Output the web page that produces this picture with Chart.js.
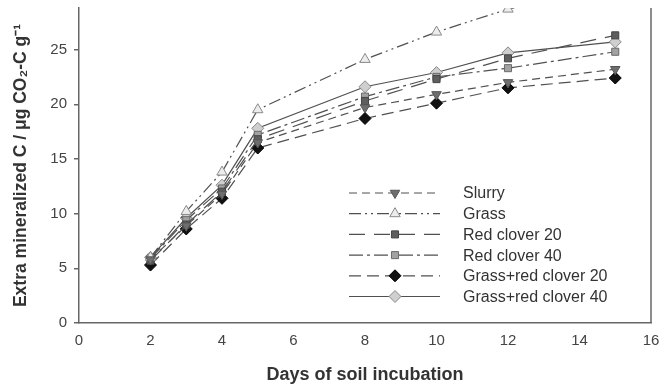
<!DOCTYPE html>
<html>
<head>
<meta charset="utf-8">
<script src="https://cdn.jsdelivr.net/npm/chart.js@4.4.0/dist/chart.umd.min.js"></script>
<style>
html,body{margin:0;padding:0;background:#fff;}
#wrap{width:659px;height:388px;position:relative;}
</style>
</head>
<body>
<div id="wrap"><canvas id="c" width="659" height="388"></canvas></div>
<script>
const days = [2, 3, 4, 5, 8, 10, 12, 15];
const seriesNames = ["Slurry", "Grass", "Red clover 20", "Red clover 40", "Grass+red clover 20", "Grass+red clover 40"];
const slurry      = [5.8, 8.9, 11.8, 16.5, 19.7, 20.9, 22.0, 23.2];
const grass       = [6.0, 10.2, 13.8, 19.5, 24.1, 26.6, 28.7, 30.7];
const redClover20 = [5.7, 9.0, 12.0, 16.8, 20.3, 22.3, 24.2, 26.3];
const redClover40 = [5.9, 9.4, 12.3, 17.2, 20.7, 22.5, 23.3, 24.8];
const grassRc20   = [5.3, 8.6, 11.4, 16.0, 18.7, 20.1, 21.5, 22.4];
const grassRc40   = [6.0, 9.6, 12.6, 17.8, 21.6, 22.9, 24.7, 25.7];
const xTicks = [0, 2, 4, 6, 8, 10, 12, 14, 16];
const yTicks = [0, 5, 10, 15, 20, 25];

const values = [slurry, grass, redClover20, redClover40, grassRc20, grassRc40];
const styles = [
  {dash:[8,5],            ps:'triangle', rot:180, r:5.5, fill:'#6e6e6e', stroke:'#555'},
  {dash:[12,4,2,4,2,4],   ps:'triangle', rot:0,   r:6,   fill:'#ececec', stroke:'#8a8a8a'},
  {dash:[16,9],           ps:'rect',     rot:0,   r:5,   fill:'#5e5e5e', stroke:'#444'},
  {dash:[14,4,3,4],       ps:'rect',     rot:0,   r:5,   fill:'#a2a2a2', stroke:'#6a6a6a'},
  {dash:[12,6],           ps:'rectRot',  rot:0,   r:6,   fill:'#111',    stroke:'#000'},
  {dash:[],               ps:'rectRot',  rot:0,   r:6,   fill:'#cfcfcf', stroke:'#8a8a8a'}
];

const datasets = seriesNames.map((n, i) => ({
  label: n,
  data: days.map((d, j) => ({x: d, y: values[i][j]})),
  borderColor: '#505050',
  borderWidth: 1.2,
  borderDash: styles[i].dash,
  pointStyle: styles[i].ps,
  rotation: styles[i].rot,
  pointRadius: styles[i].r,
  pointBackgroundColor: styles[i].fill,
  pointBorderColor: styles[i].stroke,
  pointBorderWidth: 1,
  tension: 0,
  fill: false
}));

const legendPlugin = {
  id: 'customLegend',
  afterDraw(chart) {
    const ctx = chart.ctx;
    const x0 = 349, x1 = 440, xm = 395, xt = 463;
    const y0 = 193, dy = 20.7;
    ctx.save();
    seriesNames.forEach((n, i) => {
      const y = y0 + i * dy;
      const s = styles[i];
      ctx.strokeStyle = '#505050';
      ctx.lineWidth = 1.2;
      ctx.setLineDash(s.dash);
      ctx.beginPath();
      ctx.moveTo(x0, y);
      ctx.lineTo(x1, y);
      ctx.stroke();
      ctx.setLineDash([]);
      ctx.fillStyle = s.fill;
      ctx.strokeStyle = s.stroke;
      ctx.lineWidth = 1;
      Chart.helpers.drawPoint(ctx, {pointStyle: s.ps, rotation: s.rot, radius: s.r, borderWidth: 1}, xm, y);
      ctx.fillStyle = '#333';
      ctx.font = '16px "Liberation Sans", Arial, sans-serif';
      ctx.textBaseline = 'middle';
      ctx.textAlign = 'left';
      ctx.fillText(n, xt, y + 1);
    });
    // right border
    const a = chart.chartArea;
    ctx.strokeStyle = '#666';
    ctx.lineWidth = 1.5;
    ctx.beginPath();
    ctx.moveTo(a.right, a.top);
    ctx.lineTo(a.right, a.bottom);
    ctx.stroke();
    ctx.restore();
  }
};

new Chart(document.getElementById('c'), {
  type: 'line',
  data: { datasets },
  plugins: [legendPlugin],
  options: {
    responsive: false,
    animation: false,
    events: [],
    layout: { padding: { top: 8, right: 8, left: 0, bottom: 0 } },
    plugins: { legend: { display: false }, tooltip: { enabled: false } },
    scales: {
      x: {
        type: 'linear',
        min: 0, max: 16,
        afterFit(s) { s.height = 65; s.paddingLeft = 0; s.paddingRight = 0; },
        afterBuildTicks(s) { s.ticks = xTicks.map(v => ({value: v})); },
        grid: { display: false },
        border: { display: true, color: '#666', width: 1.5 },
        ticks: { color: '#444', padding: 1, font: { family: '"Liberation Sans", Arial, sans-serif', size: 15 } },
        title: {
          display: true, text: 'Days of soil incubation', color: '#333',
          padding: { top: 0, bottom: 2 },
          font: { family: '"Liberation Sans", Arial, sans-serif', size: 18, weight: 'bold' }
        }
      },
      y: {
        type: 'linear',
        min: 0, max: 28.8,
        afterFit(s) { s.width = 79; s.paddingTop = 0; s.paddingBottom = 0; },
        afterBuildTicks(s) { s.ticks = yTicks.map(v => ({value: v})); },
        grid: { display: true, drawOnChartArea: false, drawTicks: true, tickLength: 5, color: '#666', lineWidth: 1.5 },
        border: { display: true, color: '#666', width: 1.5 },
        ticks: { color: '#444', padding: 7, font: { family: '"Liberation Sans", Arial, sans-serif', size: 15 } },
        title: {
          display: true, text: 'Extra mineralized C / μg CO₂-C g⁻¹', color: '#333',
          padding: { top: 11, bottom: 0 },
          font: { family: '"Liberation Sans", Arial, sans-serif', size: 17.5, weight: 'bold' }
        }
      }
    }
  }
});
</script>
</body>
</html>
